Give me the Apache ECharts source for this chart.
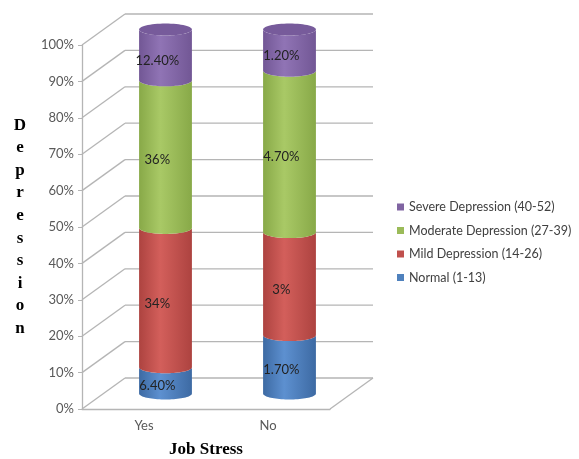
<!DOCTYPE html>
<html>
<head>
<meta charset="utf-8">
<script src="https://cdn.jsdelivr.net/npm/echarts@6/dist/echarts.min.js"></script>
<style>
html,body{margin:0;padding:0;background:#fff;}
#chart{width:579px;height:459px;}
</style>
</head>
<body>
<div id="chart"></div>
<script>
// ---- data ----
const categories = ['Yes', 'No'];
const levelNames = ['Normal (1-13)', 'Mild Depression (14-26)', 'Moderate Depression (27-39)', 'Severe Depression (40-52)'];
const normal = [6.4, 1.7];
const mild = [34, 3];
const moderate = [36, 4.7];
const severe = [12.4, 1.2];
const yTicks = [0, 10, 20, 30, 40, 50, 60, 70, 80, 90, 100];
const xTitle = 'Job Stress';
const yTitle = 'Depression';

const levels = [normal, mild, moderate, severe];
const totals = categories.map((c, i) => levels.reduce((s, arr) => s + arr[i], 0));

// ---- style ----
const palette = [
  { base: '#4F81BD', dark: '#3d6aa3', light: '#5d90d0' },
  { base: '#C0504D', dark: '#ad4340', light: '#d35f5b' },
  { base: '#9BBB59', dark: '#88a948', light: '#a9c966' },
  { base: '#8064A2', dark: '#725795', light: '#9074b5', cap: '#775b9b' }
];
const DX = 21.5, DY = -15.5; // half depth offset
const RY = 6;

function fmt(v) { return Number.isInteger(v) ? v + '%' : v.toFixed(2) + '%'; }

function ellipseArc(cx, cy, rx, ry, a0, a1, n) {
  const pts = [];
  for (let s = 0; s <= n; s++) {
    const t = a0 + (a1 - a0) * s / n;
    pts.push([cx + rx * Math.cos(t), cy + ry * Math.sin(t)]);
  }
  return pts;
}

function cylinderRenderer(k) {
  return function (params, api) {
    const i = api.value(0);
    let base = 0;
    for (let j = 0; j < k; j++) base += levels[j][i] / totals[i] * 100;
    const top = base + levels[k][i] / totals[i] * 100;
    const pb = api.coord([i, base]);
    const pt = api.coord([i, top]);
    const band = api.size([1, 0])[0];
    const rx = band * 0.213;
    const cx = pb[0] + DX;
    const yb = pb[1] + DY;
    const yt = pt[1] + DY;
    const pts = ellipseArc(cx, yt, rx, RY, Math.PI, 0, 40)
      .concat(ellipseArc(cx, yb, rx, RY, 0, Math.PI, 40));
    const col = palette[k];
    const children = [{
      type: 'polygon',
      shape: { points: pts },
      style: {
        fill: {
          type: 'linear', x: 0, y: 0, x2: 1, y2: 0,
          colorStops: [
            { offset: 0, color: col.dark },
            { offset: 0.4, color: col.light },
            { offset: 1, color: col.dark }
          ]
        }
      }
    }];
    if (k === levels.length - 1) {
      children.push({
        type: 'polygon',
        shape: { points: ellipseArc(cx, yt, rx, RY, 0, Math.PI * 2, 60) },
        style: { fill: col.cap }
      });
    }
    const midFront = (pb[1] + pt[1]) / 2;
    children.push({
      type: 'text',
      x: pb[0] + DX * 0.62,
      y: midFront + DY * 0.62,
      style: {
        text: fmt(levels[k][i]),
        fill: '#222222',
        font: '13px Lato',
        align: 'center',
        verticalAlign: 'middle'
      }
    });
    return { type: 'group', children: children };
  };
}

function wallRenderer(params, api) {
  const v = api.value(1);
  const cs = params.coordSys;
  const y = api.coord([0, v])[1];
  const x0 = cs.x, x1 = cs.x + cs.width;
  const lineStyle = { stroke: '#b5b5b5', lineWidth: 1.3 };
  const ch = [
    { type: 'line', shape: { x1: x0, y1: y, x2: x0 + 2 * DX, y2: y + 2 * DY }, style: lineStyle },
    { type: 'line', shape: { x1: x0 + 2 * DX, y1: y + 2 * DY, x2: x1 + 2 * DX, y2: y + 2 * DY }, style: lineStyle }
  ];
  if (v === 0) {
    ch.push({ type: 'line', shape: { x1: x1, y1: y, x2: x1 + 2 * DX, y2: y + 2 * DY }, style: lineStyle });
  }
  return { type: 'group', children: ch };
}

const series = [{
  name: 'wall',
  type: 'custom',
  z: 1,
  silent: true,
  renderItem: wallRenderer,
  encode: { x: 0, y: 1 },
  data: yTicks.map(v => [0, v])
}];
levels.forEach((arr, k) => {
  series.push({
    name: levelNames[k],
    type: 'custom',
    z: 3 + k,
    itemStyle: { color: palette[k].base },
    renderItem: cylinderRenderer(k),
    encode: { x: 0, y: 1 },
    data: categories.map((c, i) => [i, arr[i]])
  });
});

const chart = echarts.init(document.getElementById('chart'), null, { renderer: 'canvas' });
chart.setOption({
  animation: false,
  backgroundColor: '#ffffff',
  grid: { left: 82, right: 249, top: 45, bottom: 50, containLabel: false, outerBoundsMode: 'none' },
  xAxis: {
    type: 'category',
    data: categories,
    name: xTitle,
    nameLocation: 'middle',
    nameGap: 41,
    nameTextStyle: { fontFamily: 'Liberation Serif', fontWeight: 'bold', fontSize: 17, color: '#000', verticalAlign: 'middle' },
    axisLine: { lineStyle: { color: '#b5b5b5', width: 1.3 } },
    axisTick: { length: 4, lineStyle: { color: '#b5b5b5' } },
    axisLabel: { color: '#595959', fontFamily: 'Lato', fontSize: 13, margin: 10 }
  },
  yAxis: {
    type: 'value',
    min: 0, max: 100, interval: 10,
    name: yTitle.split('').join('\n'),
    nameLocation: 'middle',
    nameRotate: 0,
    nameGap: 62,
    nameTextStyle: { fontFamily: 'Liberation Serif', fontWeight: 'bold', fontSize: 17, color: '#000', lineHeight: 22.6, align: 'center', verticalAlign: 'middle' },
    axisLine: { show: true, lineStyle: { color: '#b5b5b5', width: 1.3 } },
    axisTick: { show: true, length: 4, lineStyle: { color: '#b5b5b5' } },
    axisLabel: { formatter: '{value}%', color: '#595959', fontFamily: 'Lato', fontSize: 13, margin: 8 },
    splitLine: { show: false }
  },
  legend: {
    orient: 'vertical',
    left: 392,
    top: 195,
    itemWidth: 7,
    itemHeight: 7,
    itemGap: 9.5,
    icon: 'rect',
    data: levelNames.slice().reverse(),
    textStyle: { color: '#404040', fontFamily: 'Lato', fontSize: 12.5, lineHeight: 14 }
  },
  series: series
});
</script>
</body>
</html>
